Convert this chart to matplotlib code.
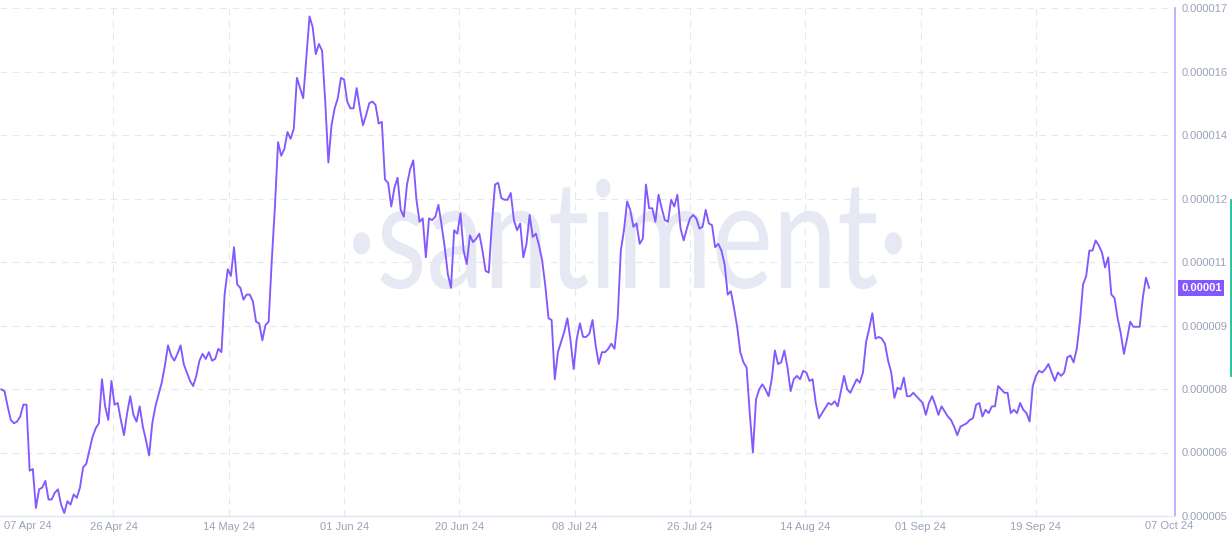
import matplotlib
matplotlib.use('Agg')
import matplotlib.pyplot as plt
import matplotlib.transforms as mtransforms
from matplotlib.lines import Line2D
from matplotlib.textpath import TextPath
from matplotlib.patches import PathPatch
from matplotlib.font_manager import FontProperties
import pandas as pd

# price, in millionths, one value every 12 hours
price_e6 = [
    7.99, 7.95, 7.59, 7.27, 7.19, 7.23, 7.35, 7.63, 7.63, 6.07,
    6.11, 5.19, 5.63, 5.67, 5.83, 5.39, 5.39, 5.55, 5.63, 5.27,
    5.07, 5.35, 5.27, 5.51, 5.43, 5.67, 6.15, 6.23, 6.55, 6.87,
    7.07, 7.19, 8.23, 7.59, 7.27, 8.19, 7.63, 7.67, 7.27, 6.91,
    7.43, 7.83, 7.39, 7.23, 7.59, 7.11, 6.79, 6.43, 7.19, 7.59,
    7.87, 8.15, 8.55, 9.03, 8.79, 8.67, 8.83, 9.03, 8.59, 8.39,
    8.19, 8.07, 8.31,
    8.67, 8.83, 8.71, 8.87, 8.67, 8.71, 8.95, 8.87, 10.23, 10.83,
    10.67, 11.35, 10.47, 10.39, 10.11, 10.23, 10.23, 10.07, 9.59, 9.55,
    9.15, 9.51, 9.59, 11.03, 12.31, 13.83, 13.51, 13.67, 14.07, 13.91,
    14.15, 15.35, 15.11, 14.87, 15.83, 16.8, 16.55, 15.91, 16.15, 15.99,
    14.79, 13.35, 14.23, 14.63, 14.87, 15.35, 15.31, 14.79, 14.63, 14.63,
    15.11, 14.63, 14.23, 14.47, 14.75, 14.79, 14.71, 14.27, 14.31, 12.95,
    12.87, 12.31,
    12.75, 12.99, 12.23, 12.07, 12.83, 13.19, 13.4, 12.47, 11.95, 12.03,
    11.11, 12.03, 11.99, 12.07, 12.35, 11.87, 11.35, 10.71, 10.39, 11.75,
    11.67, 12.15, 11.27, 10.95, 11.63, 11.47, 11.55, 11.67, 11.27, 10.79,
    10.75, 11.91, 12.83, 12.87, 12.51, 12.47, 12.47, 12.63, 11.99, 11.75,
    11.91, 11.11, 11.43, 12.11, 11.59, 11.67, 11.39, 11.03, 10.43, 9.67,
    9.63, 8.23, 8.87, 9.11, 9.35, 9.67, 9.15, 8.47, 9.19, 9.55,
    9.23, 9.23,
    9.31, 9.63, 9.03, 8.59, 8.87, 8.87, 8.95, 9.07, 8.95, 9.67,
    11.27, 11.75, 12.43, 12.23, 11.83, 11.91, 11.43, 11.55, 12.83, 12.27,
    12.27, 11.95, 12.59, 12.27, 11.99, 11.95, 12.47, 12.31, 12.59, 11.79,
    11.51, 11.79, 12.03, 12.11, 12.03, 11.79, 11.83, 12.23, 11.91, 11.87,
    11.35, 11.43, 11.27, 10.95, 10.23, 10.31, 9.91, 9.47, 8.87, 8.63,
    8.51, 7.43, 6.5, 7.75, 7.99, 8.11, 7.99, 7.83, 8.23, 8.91,
    8.59, 8.63,
    8.91, 8.51, 7.95, 8.23, 8.31, 8.23, 8.43, 8.39, 8.19, 8.23,
    7.67, 7.31, 7.43, 7.55, 7.67, 7.63, 7.71, 7.59, 7.95, 8.31,
    7.99, 7.91, 8.07, 8.23, 8.15, 8.39, 9.11, 9.43, 9.79, 9.19,
    9.23, 9.19, 9.07, 8.67, 8.39, 7.79, 8.03, 7.99, 8.27, 7.83,
    7.83, 7.91, 7.83, 7.75, 7.67, 7.39, 7.67, 7.83, 7.63, 7.39,
    7.59, 7.47, 7.35, 7.27, 7.11, 6.91, 7.11, 7.15, 7.19, 7.27,
    7.31, 7.63,
    7.67, 7.35, 7.51, 7.43, 7.59, 7.59, 8.07, 7.99, 7.91, 7.91,
    7.43, 7.51, 7.43, 7.67, 7.51, 7.43, 7.23, 8.07, 8.31, 8.43,
    8.39, 8.47, 8.59, 8.39, 8.19, 8.39, 8.31, 8.39, 8.75, 8.79,
    8.63, 8.95, 9.59, 10.47, 10.67, 11.27, 11.27, 11.51, 11.39, 11.23,
    10.87, 11.11, 10.23, 10.15, 9.67, 9.31, 8.83, 9.19, 9.59, 9.47,
    9.47, 9.47, 10.15, 10.63, 10.39,
]
start_time = '2024-04-08 05:00'

tick_base = pd.Timestamp('2024-04-07 17:00')
tick_step_days = 18.3333
x_tick_labels = ['26 Apr 24', '14 May 24', '01 Jun 24', '20 Jun 24', '08 Jul 24',
                 '26 Jul 24', '14 Aug 24', '01 Sep 24', '19 Sep 24']
first_label = '07 Apr 24'
last_label = '07 Oct 24'

y_ticks_e6 = [5.0, 6.5, 8.0, 9.5, 11.0, 12.5, 14.0, 15.5, 17.0]
y_tick_labels = ['0.000005', '0.000006', '0.000008', '0.000009', '0.000011',
                 '0.000012', '0.000014', '0.000016', '0.000017']
badge_text = '0.00001'

LINE = '#8358ff'
AXIS_PURPLE = '#b9a2ff'
GRID = '#e6e8f0'
TEXT = '#9aa2b8'
WATERMARK = '#e6e9f3'

times = pd.date_range(start_time, periods=len(price_e6), freq='12h')
prices = [p * 1e-6 for p in price_e6]

W, H = 1232, 543
fig = plt.figure(figsize=(W / 100, H / 100), dpi=100)
ax = fig.add_axes([0, 27 / H, 1175 / W, 508 / H])

# watermark, drawn as a path so it can be squeezed to the logo's proportions
wm = TextPath((0, 0), '\u00b7santiment\u00b7', size=100, prop=FontProperties(family='Lato'))
bb = wm.get_extents()
sx = (902 - 353) / bb.width
sy = 76 / 50.65
wm_tr = (mtransforms.Affine2D().translate(-bb.x0, 0).scale(sx, sy)
         .translate(353, H - 288) + mtransforms.IdentityTransform())
ax.add_patch(PathPatch(wm, transform=wm_tr, fc=WATERMARK, ec='none', zorder=0, clip_on=False))

ax.plot(times, prices, color=LINE, lw=1.35, zorder=3, solid_joinstyle='round')

ax.set_xlim(tick_base + pd.Timedelta(days=0.286), tick_base + pd.Timedelta(days=187.12))
ax.set_ylim(5e-6, 17e-6)

xticks = [tick_base + pd.Timedelta(days=tick_step_days * k) for k in range(1, 10)]
ax.set_xticks(xticks)
ax.set_xticklabels(x_tick_labels)
ax.set_yticks([v * 1e-6 for v in y_ticks_e6])
ax.set_yticklabels(y_tick_labels)

ax.yaxis.tick_right()
ax.tick_params(axis='both', length=0, labelsize=8, labelcolor=TEXT)
ax.tick_params(axis='x', pad=4.5)
ax.tick_params(axis='y', pad=5)
for lab in ax.get_xticklabels() + ax.get_yticklabels():
    lab.set_family('Liberation Sans')

ax.grid(True, color=GRID, lw=0.8, linestyle=(0, (6, 5)), zorder=1)

for side in ['left', 'top']:
    ax.spines[side].set_visible(False)
ax.spines['bottom'].set_color('#e3e6ee')
ax.spines['bottom'].set_linewidth(1)
ax.spines['right'].set_color(AXIS_PURPLE)
ax.spines['right'].set_linewidth(1.2)

# edge date labels
fig.text(4 / W, (H - 526) / H, first_label, ha='left', va='center', fontsize=8,
         color=TEXT, family='Liberation Sans')
fig.text(1169.5 / W, (H - 526) / H, last_label, ha='center', va='center', fontsize=8,
         color=TEXT, family='Liberation Sans')

# last value badge
trans = mtransforms.blended_transform_factory(ax.transAxes, ax.transData)
ax.text(1181 / 1175, prices[-1], badge_text, transform=trans, ha='left', va='center',
        fontsize=8, fontweight='bold', color='white', family='Liberation Sans',
        bbox=dict(boxstyle='square,pad=0.25', fc=LINE, ec='none'), clip_on=False)

# green side marker
fig.add_artist(Line2D([1230.5 / W, 1230.5 / W], [(H - 200) / H, (H - 375) / H],
                      transform=fig.transFigure, color='#26c39f', lw=2))

fig.savefig('out.png', dpi=100)
